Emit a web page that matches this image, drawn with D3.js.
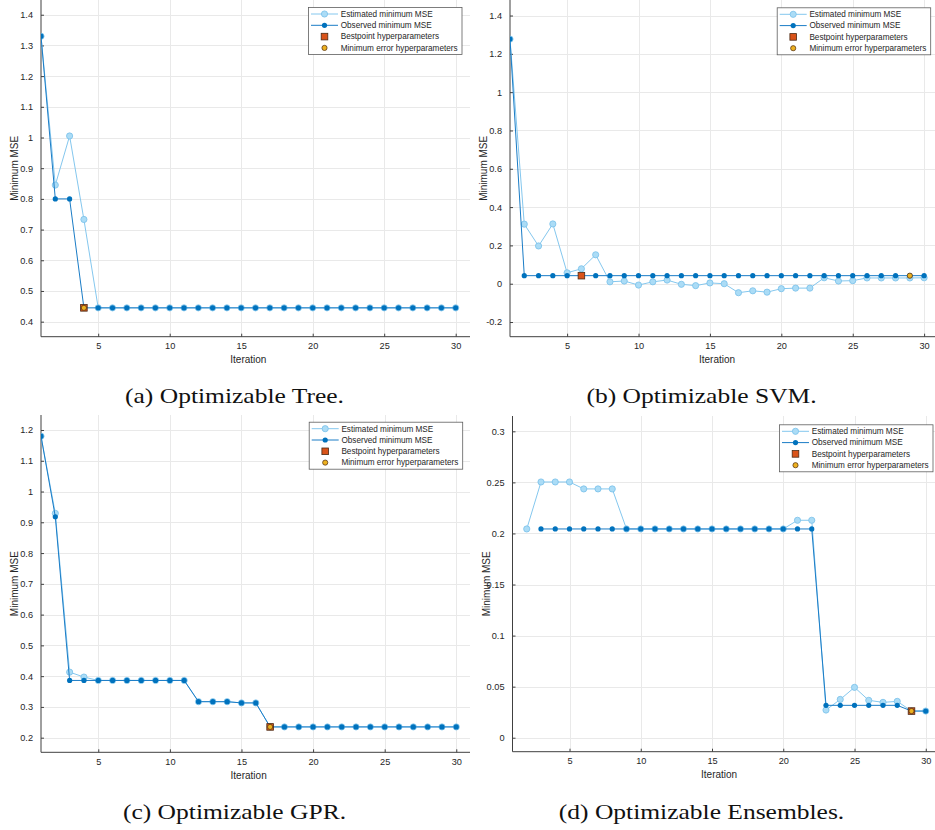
<!DOCTYPE html>
<html>
<head>
<meta charset="utf-8">
<script src="https://cdn.jsdelivr.net/npm/d3@7"></script>
<style>
  html, body { margin: 0; padding: 0; background: #ffffff; }
  svg { display: block; }
</style>
</head>
<body>
<svg id="fig" width="935" height="830"></svg>
<script>
// ---- data: minimum MSE per iteration of Bayesian optimisation ----
const iterations = [1,2,3,4,5,6,7,8,9,10,11,12,13,14,15,16,17,18,19,20,21,22,23,24,25,26,27,28,29,30];
const xTicks = [5, 10, 15, 20, 25, 30];

// (a) Optimizable Tree
const treeEstimated = [1.33, 0.845, 1.005, 0.733, 0.445, 0.445, 0.445, 0.445, 0.445, 0.445,
  0.445, 0.445, 0.445, 0.445, 0.445, 0.445, 0.445, 0.445, 0.445, 0.445,
  0.445, 0.445, 0.445, 0.445, 0.445, 0.445, 0.445, 0.445, 0.445, 0.445];
const treeObserved = [1.33, 0.80, 0.80, 0.445, 0.445, 0.445, 0.445, 0.445, 0.445, 0.445,
  0.445, 0.445, 0.445, 0.445, 0.445, 0.445, 0.445, 0.445, 0.445, 0.445,
  0.445, 0.445, 0.445, 0.445, 0.445, 0.445, 0.445, 0.445, 0.445, 0.445];
const treeBestIteration = 4;
const treeMinErrorIteration = 4;
const treeYTicks = [0.4, 0.5, 0.6, 0.7, 0.8, 0.9, 1, 1.1, 1.2, 1.3, 1.4];

// (b) Optimizable SVM
const svmEstimated = [1.277, 0.311, 0.197, 0.312, 0.057, 0.078, 0.151, 0.010, 0.014, -0.007,
  0.010, 0.019, -0.003, -0.010, 0.004, 0.000, -0.047, -0.037, -0.044, -0.026,
  -0.023, -0.023, 0.031, 0.014, 0.016, 0.030, 0.030, 0.030, 0.030, 0.031];
const svmObserved = [1.277, 0.042, 0.042, 0.042, 0.042, 0.042, 0.042, 0.042, 0.042, 0.042,
  0.042, 0.042, 0.042, 0.042, 0.042, 0.042, 0.042, 0.042, 0.042, 0.042,
  0.042, 0.042, 0.042, 0.042, 0.042, 0.042, 0.042, 0.042, 0.042, 0.042];
const svmBestIteration = 6;
const svmMinErrorIteration = 29;
const svmYTicks = [-0.2, 0, 0.2, 0.4, 0.6, 0.8, 1, 1.2, 1.4];

// (c) Optimizable GPR
const gprEstimated = [1.18, 0.929, 0.413, 0.397, 0.386, 0.386, 0.386, 0.386, 0.386, 0.386,
  0.386, 0.317, 0.317, 0.317, 0.313, 0.313, 0.235, 0.235, 0.235, 0.235,
  0.235, 0.235, 0.235, 0.235, 0.235, 0.235, 0.235, 0.235, 0.235, 0.235];
const gprObserved = [1.18, 0.918, 0.386, 0.386, 0.386, 0.386, 0.386, 0.386, 0.386, 0.386,
  0.386, 0.317, 0.317, 0.317, 0.313, 0.313, 0.235, 0.235, 0.235, 0.235,
  0.235, 0.235, 0.235, 0.235, 0.235, 0.235, 0.235, 0.235, 0.235, 0.235];
const gprBestIteration = 17;
const gprMinErrorIteration = 17;
const gprYTicks = [0.2, 0.3, 0.4, 0.5, 0.6, 0.7, 0.8, 0.9, 1, 1.1, 1.2];

// (d) Optimizable Ensembles
const ensEstimated = [null, 0.2044, 0.2504, 0.2504, 0.2504, 0.2436, 0.2436, 0.2436, 0.2044, 0.2044,
  0.2044, 0.2044, 0.2044, 0.2044, 0.2044, 0.2044, 0.2044, 0.2044, 0.2044, 0.2044,
  0.2129, 0.2129, 0.0271, 0.0375, 0.0493, 0.0366, 0.0346, 0.0356, 0.0261, 0.0261];
const ensObserved = [null, null, 0.2044, 0.2044, 0.2044, 0.2044, 0.2044, 0.2044, 0.2044, 0.2044,
  0.2044, 0.2044, 0.2044, 0.2044, 0.2044, 0.2044, 0.2044, 0.2044, 0.2044, 0.2044,
  0.2044, 0.2044, 0.0317, 0.0317, 0.0317, 0.0317, 0.0317, 0.0317, 0.0261, 0.0261];
const ensBestIteration = 29;
const ensMinErrorIteration = 29;
const ensYTicks = [0, 0.05, 0.1, 0.15, 0.2, 0.25, 0.3];

const legendLabels = ["Estimated minimum MSE", "Observed minimum MSE",
  "Bestpoint hyperparameters", "Minimum error hyperparameters"];

// ---- layout of the four sub-figures ----
const panels = [
  { caption: "(a) Optimizable Tree.", est: treeEstimated, obs: treeObserved,
    best: treeBestIteration, minErr: treeMinErrorIteration, yTicks: treeYTicks,
    left: 41, top: 0, right: 470, bottom: 336.7, xRange: [41, 470],
    yDomain: [0.351, 1.448], legend: [308, 7], captionPos: [234.5, 403] },
  { caption: "(b) Optimizable SVM.", est: svmEstimated, obs: svmObserved,
    best: svmBestIteration, minErr: svmMinErrorIteration, yTicks: svmYTicks,
    left: 510, top: 0, right: 935, bottom: 336.7, xRange: [510, 938.4],
    yDomain: [-0.2766, 1.481], legend: [776.7, 7.3], captionPos: [701.5, 403] },
  { caption: "(c) Optimizable GPR.", est: gprEstimated, obs: gprObserved,
    best: gprBestIteration, minErr: gprMinErrorIteration, yTicks: gprYTicks,
    left: 41, top: 415, right: 470, bottom: 752.3, xRange: [41, 470.6],
    yDomain: [0.1525, 1.2487], legend: [308.7, 421.7], captionPos: [234.5, 819] },
  { caption: "(d) Optimizable Ensembles.", est: ensEstimated, obs: ensObserved,
    best: ensBestIteration, minErr: ensMinErrorIteration, yTicks: ensYTicks,
    left: 512.5, top: 416, right: 935, bottom: 751.7, xRange: [512.5, 940],
    yDomain: [-0.0137, 0.315], legend: [779, 424.3], captionPos: [701.5, 819] }
];

const colors = {
  axis: "#404040", text: "#262626", grid: "#e9e9e9",
  estLine: "#84c7ee", estFill: "#abdcf6", estEdge: "#78c0ea",
  obs: "#0072bd", obsLine: "#1a7cc6",
  best: "#d95319", minErr: "#edb120", markerEdge: "#4a2a14"
};
const sans = "'Liberation Sans', Arial, Helvetica, sans-serif";
const serif = "'Liberation Serif', 'Times New Roman', serif";
const fmt = v => String(+v.toFixed(4));

const svg = d3.select("#fig");
svg.append("rect").attr("width", 935).attr("height", 830).attr("fill", "#fff");

panels.forEach((p, i) => {
  const g = svg.append("g");
  const x = d3.scaleLinear().domain([1, 31]).range(p.xRange);
  const y = d3.scaleLinear().domain(p.yDomain).range([p.bottom, p.top]);
  const clipId = "clip" + i;
  svg.append("clipPath").attr("id", clipId).append("rect")
    .attr("x", p.left).attr("y", p.top)
    .attr("width", p.right - p.left).attr("height", p.bottom - p.top);

  // grid
  const grid = g.append("g").attr("stroke", colors.grid).attr("stroke-width", 1);
  grid.selectAll(".gx").data(xTicks).join("line")
    .attr("x1", d => Math.round(x(d)) + 0.5).attr("x2", d => Math.round(x(d)) + 0.5)
    .attr("y1", p.top).attr("y2", p.bottom);
  grid.selectAll(".gy").data(p.yTicks).join("line")
    .attr("x1", p.left).attr("x2", p.right)
    .attr("y1", d => Math.round(y(d)) + 0.5).attr("y2", d => Math.round(y(d)) + 0.5);

  // axes (ticks pointing inward)
  const yAxis = d3.axisLeft(y).tickValues(p.yTicks).tickSize(-3).tickPadding(7)
    .tickFormat(fmt);
  const xAxis = d3.axisBottom(x).tickValues(xTicks).tickSize(-3).tickPadding(7)
    .tickFormat(fmt);
  const ya = g.append("g").attr("transform", `translate(${p.left},0)`).call(yAxis);
  const xa = g.append("g").attr("transform", `translate(0,${p.bottom})`).call(xAxis);
  [ya, xa].forEach(a => {
    a.select(".domain").remove();
    a.selectAll("line").attr("stroke", colors.axis);
    a.selectAll("text").attr("fill", colors.text).style("font-family", sans).style("font-size", "9.2px");
  });
  ya.selectAll("text").attr("dx", "-1");
  xa.selectAll("text").attr("dy", "0.6em");
  g.append("line").attr("x1", p.left).attr("x2", p.left).attr("y1", p.top).attr("y2", p.bottom)
    .attr("stroke", colors.axis).attr("stroke-width", 1);
  g.append("line").attr("x1", p.left).attr("x2", p.right).attr("y1", p.bottom).attr("y2", p.bottom)
    .attr("stroke", colors.axis).attr("stroke-width", 1);

  // axis titles
  g.append("text")
    .attr("x", (x(1) + x(30)) / 2)
    .attr("y", p.bottom + 26.6).attr("text-anchor", "middle")
    .attr("fill", colors.text).style("font-family", sans).style("font-size", "10px")
    .text("Iteration");
  g.append("text")
    .attr("transform", `translate(${p.left - 23},${(p.top + p.bottom) / 2}) rotate(-90)`)
    .attr("text-anchor", "middle").attr("fill", colors.text)
    .style("font-family", sans).style("font-size", "10px")
    .text("Minimum MSE");

  // series
  const pts = arr => iterations.map((it, k) => ({ it, v: arr[k] }));
  const line = d3.line().defined(d => d.v !== null).x(d => x(d.it)).y(d => y(d.v));
  const plot = g.append("g").attr("clip-path", `url(#${clipId})`);

  const estPts = pts(p.est);
  plot.append("path").datum(estPts).attr("d", line).attr("fill", "none")
    .attr("stroke", colors.estLine).attr("stroke-width", 1);
  plot.selectAll(".est").data(estPts.filter(d => d.v !== null)).join("circle")
    .attr("cx", d => x(d.it)).attr("cy", d => y(d.v)).attr("r", 3.1)
    .attr("fill", colors.estFill).attr("stroke", colors.estEdge).attr("stroke-width", 0.8);

  const obsPts = pts(p.obs);
  plot.append("path").datum(obsPts).attr("d", line).attr("fill", "none")
    .attr("stroke", colors.obsLine).attr("stroke-width", 1);
  plot.selectAll(".obs").data(obsPts.filter(d => d.v !== null)).join("circle")
    .attr("cx", d => x(d.it)).attr("cy", d => y(d.v)).attr("r", 2.6)
    .attr("fill", colors.obs);

  const bestV = p.obs[p.best - 1];
  plot.append("rect").attr("x", x(p.best) - 3.3).attr("y", y(bestV) - 3.3)
    .attr("width", 6.6).attr("height", 6.6)
    .attr("fill", colors.best).attr("stroke", colors.markerEdge).attr("stroke-width", 0.8);
  const minV = p.obs[p.minErr - 1];
  plot.append("circle").attr("cx", x(p.minErr)).attr("cy", y(minV)).attr("r", 2.6)
    .attr("fill", colors.minErr).attr("stroke", colors.markerEdge).attr("stroke-width", 0.7);

  // legend
  const lg = g.append("g").attr("transform", `translate(${p.legend[0]},${p.legend[1]})`);
  lg.append("rect").attr("x", 0.5).attr("y", 0.5).attr("width", 153.5).attr("height", 47)
    .attr("fill", "#fff").attr("stroke", "#5e5e5e").attr("stroke-width", 0.8);
  const rowY = k => 7 + k * 11.3;
  lg.append("line").attr("x1", 3).attr("x2", 30).attr("y1", rowY(0)).attr("y2", rowY(0))
    .attr("stroke", colors.estLine);
  lg.append("circle").attr("cx", 16.5).attr("cy", rowY(0)).attr("r", 3.1)
    .attr("fill", colors.estFill).attr("stroke", colors.estEdge).attr("stroke-width", 0.8);
  lg.append("line").attr("x1", 3).attr("x2", 30).attr("y1", rowY(1)).attr("y2", rowY(1))
    .attr("stroke", colors.obsLine);
  lg.append("circle").attr("cx", 16.5).attr("cy", rowY(1)).attr("r", 2.6).attr("fill", colors.obs);
  lg.append("rect").attr("x", 16.5 - 3.3).attr("y", rowY(2) - 3.3).attr("width", 6.6).attr("height", 6.6)
    .attr("fill", colors.best).attr("stroke", colors.markerEdge).attr("stroke-width", 0.8);
  lg.append("circle").attr("cx", 16.5).attr("cy", rowY(3)).attr("r", 2.6)
    .attr("fill", colors.minErr).attr("stroke", colors.markerEdge).attr("stroke-width", 0.7);
  lg.selectAll(".lt").data(legendLabels).join("text")
    .attr("x", 32.7).attr("y", (d, k) => rowY(k)).attr("dy", "0.35em")
    .attr("fill", colors.text).style("font-family", sans).style("font-size", "8.2px")
    .text(d => d);

  // caption
  svg.append("text")
    .attr("transform", `translate(${p.captionPos[0]},${p.captionPos[1]}) scale(1.16,1)`)
    .attr("text-anchor", "middle").attr("fill", "#111")
    .style("font-family", serif).style("font-size", "22px")
    .text(p.caption);
});
</script>
</body>
</html>
